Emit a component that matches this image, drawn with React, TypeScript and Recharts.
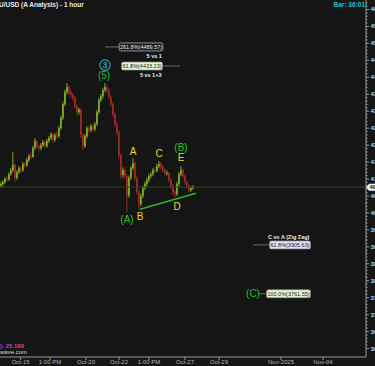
import React from "react";
import { ComposedChart, Bar, XAxis, YAxis, ReferenceLine, ReferenceDot } from "recharts";

// candle data (2-hour bars), open of each bar = previous close
const firstOpen = 4080;
const closes = [
  4085, 4091, 4100, 4098, 4114, 4126, 4141, 4103, 4120, 4132,
  4126, 4144, 4140, 4156, 4168, 4165, 4191, 4212, 4197, 4191,
  4200, 4209, 4197, 4212, 4221, 4232, 4215, 4229, 4226, 4250,
  4280, 4321, 4356, 4371, 4356, 4348, 4339, 4315, 4297, 4305,
  4229, 4197, 4226, 4250, 4244, 4256, 4247, 4262, 4297, 4333,
  4344, 4362, 4371, 4362, 4342, 4321, 4291, 4262, 4238, 4170,
  4111, 4126, 4109, 4052, 4103, 4132, 4147, 4103, 4061, 4026,
  4050, 4073, 4085, 4097, 4109, 4114, 4126, 4124, 4138, 4144,
  4135, 4126, 4117, 4118, 4097, 4079, 4061, 4055, 4085, 4114,
  4126, 4109, 4091, 4079, 4067, 4073, 4076,
];
const highs = [
  4092, 4097, 4106, 4108, 4120, 4133, 4179, 4146, 4126, 4138,
  4137, 4150, 4150, 4163, 4174, 4178, 4197, 4221, 4216, 4201,
  4206, 4215, 4213, 4218, 4227, 4238, 4236, 4235, 4240, 4257,
  4287, 4328, 4363, 4383, 4378, 4362, 4354, 4344, 4320, 4310,
  4308, 4234, 4233, 4256, 4257, 4262, 4261, 4268, 4304, 4340,
  4351, 4369, 4383, 4377, 4367, 4347, 4326, 4296, 4268, 4243,
  4175, 4134, 4131, 4114, 4110, 4139, 4162, 4152, 4108, 4066,
  4057, 4080, 4092, 4104, 4116, 4121, 4132, 4136, 4145, 4153,
  4150, 4141, 4132, 4125, 4120, 4103, 4085, 4068, 4092, 4121,
  4138, 4131, 4115, 4096, 4084, 4079, 4082,
];
const lows = [
  4074, 4080, 4086, 4093, 4095, 4110, 4121, 4091, 4098, 4115,
  4118, 4121, 4134, 4136, 4150, 4160, 4162, 4186, 4190, 4183,
  4185, 4195, 4190, 4192, 4206, 4215, 4208, 4210, 4220, 4222,
  4245, 4274, 4315, 4350, 4349, 4340, 4330, 4307, 4288, 4290,
  4220, 4185, 4191, 4220, 4236, 4238, 4240, 4241, 4256, 4291,
  4327, 4338, 4356, 4354, 4335, 4313, 4283, 4254, 4229, 4160,
  4100, 4104, 4100, 4002, 4045, 4097, 4126, 4095, 4053, 4008,
  4019, 4044, 4067, 4079, 4091, 4102, 4108, 4118, 4120, 4132,
  4128, 4119, 4110, 4110, 4089, 4071, 4053, 4044, 4050, 4079,
  4108, 4102, 4084, 4072, 4060, 4062, 4068,
];

const lastPrice = 4076;

// x axis ticks (bar index) and their labels
const dateTicks = [9.85, 24.5, 42.5, 59, 74, 92, 109, 140, 161];
const dateLabels = ["Oct-15", "1:00 PM", "Oct-20", "Oct-22", "1:00 PM", "Oct-27", "Oct-29", "Nov-2025", "Nov-04"];

const priceMajor = [
  3600, 3650, 3700, 3750, 3800, 3850, 3900, 3950, 4000, 4050, 4100,
  4150, 4200, 4250, 4300, 4350, 4400, 4450, 4500, 4550, 4600,
];

// wave labels
const waveNames = ["3", "(5)", "A", "C", "(B)", "E", "D", "B", "(A)", "(C)"];
const waveIdx = [52, 51.5, 66, 79, 90, 90, 88, 69.5, 63, 126];
const wavePrice = [4436, 4406, 4182, 4176, 4194, 4162, 4020, 3988, 3982, 3763];
const waveKind = ["circle", "green", "yellow", "yellow", "green", "yellow", "yellow", "yellow", "green", "green"];

// fibonacci projections
const fibLevels = [4489.57, 4433.23, 3905.63, 3761.55];
const fibPct = ["261.8%", "61.8%", "61.8%", "100.0%"];
const fibCenter = [70, 70.5, 144.5, 143.75];
const fibLineFrom = [52, 80.5, 126, 128.5];
const fibLineTo = [59.5, 89.5, 134.5, 133];
const fibNotes = ["5 vs 1", "5 vs 1+3", "C vs A (Zig Zag)", ""];
const fibTheme = ["dark", "green", "blue", "green"];

// support line of the triangle
const supportFrom = { x: 69.5, y: 4011 };
const supportTo = { x: 97.5, y: 4058 };

const BG = "#151515";
const UP = "#7fa82a";
const DOWN = "#9a2a26";
const FONT = "'Liberation Sans', Arial, sans-serif";

const rows = closes.map((c, i) => {
  const o = i === 0 ? firstOpen : closes[i - 1];
  return { i, o, c, h: highs[i], l: lows[i], range: [lows[i], highs[i]] };
});

const minorTicks: number[] = [];
priceMajor.forEach((m) => {
  for (let k = 0; k < 50; k += 10) minorTicks.push(m + k);
});

const Candle = (props: any) => {
  const { x, y, width, height, payload } = props;
  const { o, c, h, l } = payload;
  const top0 = Math.min(y, y + height);
  const hh = Math.abs(height);
  const span = h - l || 1;
  const py = (v: number) => top0 + ((h - v) / span) * hh;
  const color = c >= o ? UP : DOWN;
  const bTop = py(Math.max(o, c));
  const bBot = py(Math.min(o, c));
  return (
    <g>
      <rect x={x + width / 2 - 0.5} y={top0} width={1} height={Math.max(1, hh)} fill={color} />
      <rect x={x} y={bTop} width={width} height={Math.max(1, bBot - bTop)} fill={color} />
    </g>
  );
};

const PriceTick = (props: any) => {
  const { x, y, payload } = props;
  const major = payload.value % 50 === 0;
  return (
    <g>
      <line x1={x} x2={x + (major ? 3 : 1.5)} y1={y} y2={y} stroke="#9a9a9a" strokeWidth={1} />
      {major && (
        <text x={x + 4.5} y={y + 2} fill="#cfcfcf" fontSize={6} fontFamily={FONT} fontWeight="bold">
          {payload.value}
        </text>
      )}
    </g>
  );
};

const WaveLabel = (name: string, kind: string) => (p: any) => {
  if (kind === "circle") {
    return (
      <g>
        <circle cx={p.cx} cy={p.cy} r={5.2} fill="none" stroke="#2fa4ad" strokeWidth={1.2} />
        <text x={p.cx} y={p.cy + 3} textAnchor="middle" fill="#2fa4ad" fontSize={9} fontFamily={FONT} fontWeight="bold">
          {name}
        </text>
      </g>
    );
  }
  return (
    <text
      x={p.cx}
      y={p.cy + 3.5}
      textAnchor="middle"
      fill={kind === "green" ? "#22c32a" : "#e4dd2b"}
      fontSize={10}
      fontFamily={FONT}
    >
      {name}
    </text>
  );
};

const FibBox = (text: string, note: string, theme: string, below: boolean) => (p: any) => {
  const w = text.length * 2.85 + 1;
  const fill = theme === "dark" ? "#1b1b1b" : theme === "blue" ? "#dfe1fb" : "#e3f5d3";
  const stroke = theme === "dark" ? "#c8c8c8" : "#8a8a8a";
  const color = theme === "dark" ? "#e8e8e8" : "#222";
  return (
    <g>
      <rect x={p.cx - w / 2} y={p.cy - 4} width={w} height={8} rx={1.5} fill={fill} stroke={stroke} strokeWidth={0.7} />
      <text x={p.cx} y={p.cy + 2} textAnchor="middle" fill={color} fontSize={5.5} fontFamily={FONT}>
        {text}
      </text>
      {note && (
        <text
          x={p.cx + w / 2 - 1}
          y={below ? p.cy + 11 : p.cy - 6}
          textAnchor="end"
          fill="#f0f0f0"
          fontSize={5.5}
          fontFamily={FONT}
          fontWeight="bold"
        >
          {note}
        </text>
      )}
    </g>
  );
};

const PriceTag = (props: any) => {
  const { viewBox } = props;
  const x = viewBox.x + viewBox.width;
  const y = viewBox.y;
  return (
    <g>
      <polygon points={`${x},${y} ${x + 3},${y - 3.5} ${x + 12},${y - 3.5} ${x + 12},${y + 3.5} ${x + 3},${y + 3.5}`} fill="#f4f4f4" />
      <text x={x + 3.5} y={y + 2} fill="#111" fontSize={6} fontFamily={FONT} fontWeight="bold">
        {lastPrice}
      </text>
    </g>
  );
};

export default function App() {
  return (
    <div style={{ position: "relative", width: 375, height: 366, background: BG, overflow: "hidden", fontFamily: FONT }}>
      <style>{`body{margin:0;background:${BG}}`}</style>
      <ComposedChart width={375} height={366} data={rows} margin={{ top: 0, right: 0, bottom: 0, left: 0 }}>
        <XAxis
          type="number"
          dataKey="i"
          domain={[-0.5, 182.5]}
          allowDataOverflow
          ticks={dateTicks}
          interval={0}
          tickFormatter={(v: number) => dateLabels[dateTicks.indexOf(v)]}
          height={9}
          tickSize={3}
          tickMargin={0}
          axisLine={{ stroke: "#9a9a9a" }}
          tickLine={{ stroke: "#9a9a9a" }}
          tick={{ fill: "#b8b8b8", fontSize: 6, fontFamily: FONT }}
        />
        <YAxis
          orientation="right"
          type="number"
          domain={[3575, 4628]}
          allowDataOverflow
          ticks={minorTicks}
          interval={0}
          width={9}
          tickSize={0}
          tickMargin={0}
          tickLine={false}
          axisLine={{ stroke: "#9a9a9a" }}
          tick={<PriceTick />}
        />
        <ReferenceLine y={lastPrice} stroke="#1f4f1f" strokeWidth={1} label={<PriceTag />} />
        <Bar dataKey="range" barSize={2} shape={<Candle />} isAnimationActive={false} />
        <ReferenceLine
          segment={[supportFrom, supportTo]}
          stroke="#2db82d"
          strokeWidth={1.5}
        />
        {fibLevels.map((lv, k) => (
          <ReferenceLine
            key={`fl${k}`}
            segment={[
              { x: fibLineFrom[k], y: lv },
              { x: fibLineTo[k], y: lv },
            ]}
            stroke="#6a6a6a"
            strokeWidth={1}
          />
        ))}
        {fibLevels.map((lv, k) => (
          <ReferenceDot
            key={`fb${k}`}
            x={fibCenter[k]}
            y={lv}
            r={0}
            shape={FibBox(`${fibPct[k]}(${lv.toFixed(2)})`, fibNotes[k], fibTheme[k], k < 2)}
          />
        ))}
        {waveNames.map((n, k) => (
          <ReferenceDot key={`w${k}`} x={waveIdx[k]} y={wavePrice[k]} r={0} shape={WaveLabel(n, waveKind[k])} />
        ))}
      </ComposedChart>
      <div style={{ position: "absolute", left: -1, top: 1, color: "#eaeaea", fontSize: 6.5, fontWeight: "bold", whiteSpace: "nowrap" }}>
        U/USD (A Analysis) - 1 hour
      </div>
      <div style={{ position: "absolute", right: 10, top: 1, color: "#1ec4c4", fontSize: 6.5, fontWeight: "bold", whiteSpace: "nowrap" }}>
        Bar: 36:01
      </div>
      <div style={{ position: "absolute", left: 0, top: 343, color: "#c43ec4", fontSize: 6, fontWeight: "bold", whiteSpace: "nowrap", lineHeight: "7px" }}>
        ): 25.188
      </div>
      <div style={{ position: "absolute", left: 0, top: 349, color: "#d8d8d8", fontSize: 6, whiteSpace: "nowrap", lineHeight: "7px" }}>
        wave.com
      </div>
    </div>
  );
}
